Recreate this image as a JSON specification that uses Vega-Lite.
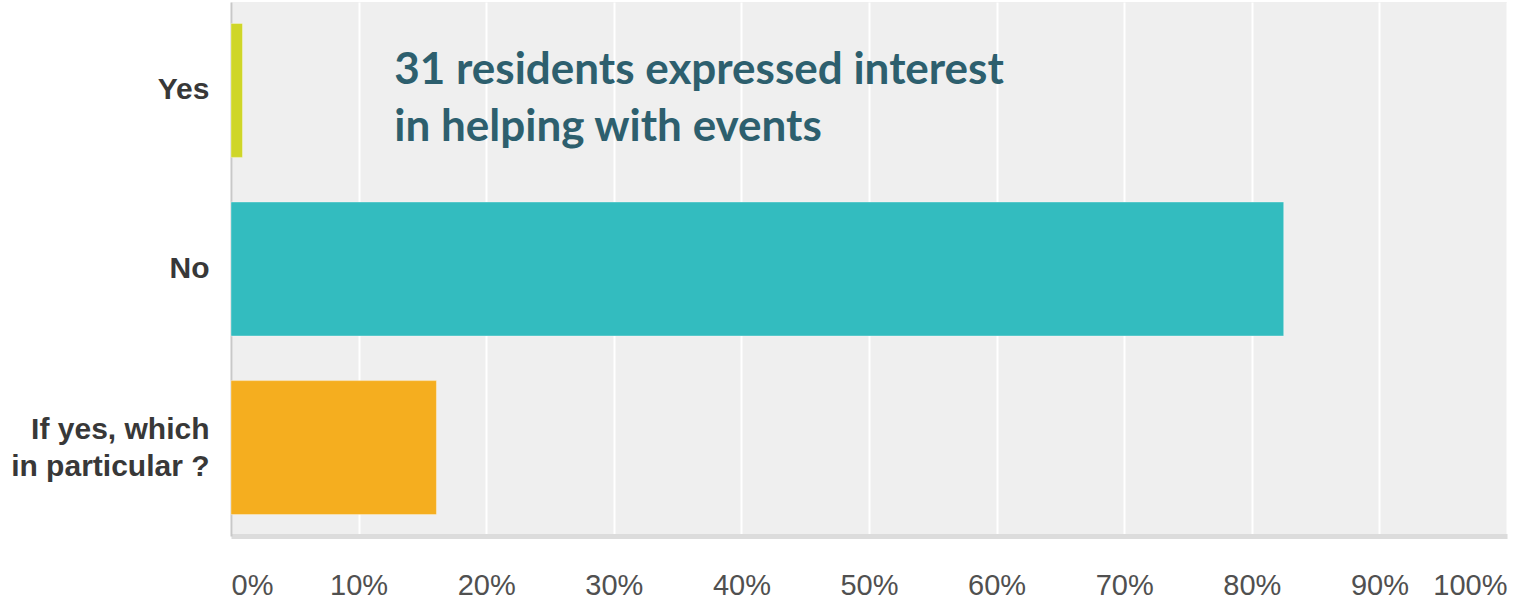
{
  "$schema": "https://vega.github.io/schema/vega-lite/v6.json",
  "width": 1276,
  "height": 534,
  "autosize": {"type": "none"},
  "padding": {"left": 231, "top": 2, "right": 7, "bottom": 64},
  "background": "#ffffff",
  "view": {"fill": "#efefef", "stroke": null},
  "config": {"font": "Liberation Sans"},
  "datasets": {
    "bars": [
      {"answer": "Yes", "share": 0.009},
      {"answer": "No", "share": 0.825},
      {"answer": "If yes, which in particular ?", "share": 0.161}
    ],
    "note": [
      {"answer": "Yes", "pos": 0.128, "label": ["31 residents expressed interest", "in helping with events"]}
    ]
  },
  "layer": [
    {
      "data": {"name": "bars"},
      "mark": {"type": "bar", "stroke": "#ffffff", "strokeOpacity": 0.35, "strokeWidth": 1},
      "encoding": {
        "y": {
          "field": "answer",
          "type": "nominal",
          "sort": null,
          "scale": {"paddingInner": 0.25, "paddingOuter": 0.12},
          "axis": {
            "title": null,
            "ticks": false,
            "domainColor": "#c8c8c8",
            "domainWidth": 2,
            "labelFont": "Liberation Sans",
            "labelFontWeight": "bold",
            "labelFontSize": 30,
            "labelColor": "#383838",
            "labelPadding": 22,
            "labelLimit": 400,
            "labelLineHeight": 37,
            "labelOffset": {"condition": {"test": "datum.value == 'If yes, which in particular ?'", "value": -18}, "value": 0},
            "labelExpr": "datum.value == 'If yes, which in particular ?' ? ['If yes, which', 'in particular ?'] : datum.value"
          }
        },
        "x": {
          "field": "share",
          "type": "quantitative",
          "scale": {"domain": [0, 1], "nice": false},
          "axis": {
            "title": null,
            "format": ".0%",
            "values": [0, 0.1, 0.2, 0.3, 0.4, 0.5, 0.6, 0.7, 0.8, 0.9, 1],
            "ticks": false,
            "grid": true,
            "gridColor": "#ffffff",
            "gridWidth": 2,
            "gridOpacity": 1,
            "domainColor": "#dcdcdc",
            "domainWidth": 5,
            "labelFlush": true,
            "labelFont": "Liberation Sans",
            "labelFontSize": 29,
            "labelColor": "#505050",
            "labelPadding": 35
          }
        },
        "color": {
          "field": "answer",
          "type": "nominal",
          "scale": {
            "domain": ["Yes", "No", "If yes, which in particular ?"],
            "range": ["#cfd628", "#33bcbf", "#f5ae1f"]
          },
          "legend": null
        }
      }
    },
    {
      "data": {"name": "note"},
      "mark": {
        "type": "text",
        "align": "left",
        "baseline": "middle",
        "font": "Lato",
        "fontWeight": "bold",
        "fontSize": 44,
        "lineHeight": 57,
        "color": "#2d5f6e",
        "dy": -19
      },
      "encoding": {
        "x": {"field": "pos", "type": "quantitative"},
        "y": {"field": "answer", "type": "nominal", "sort": null},
        "text": {"field": "label"}
      }
    }
  ]
}
